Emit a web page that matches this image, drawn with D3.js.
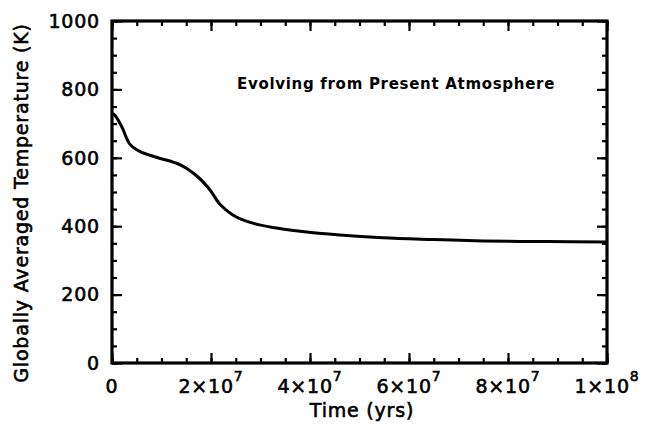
<!DOCTYPE html>
<html>
<head>
<meta charset="utf-8">
<script src="https://cdn.jsdelivr.net/npm/d3@7"></script>
<style>
  body { margin: 0; background: #fff; }
  svg { display: block; font-family: "DejaVu Sans", sans-serif; }
  .lbl { stroke: #000; stroke-width: 0.6px; letter-spacing: 0.8px; }
</style>
</head>
<body>
<svg></svg>
<script>
const width = 645;
const height = 429;
const margin = {top: 21, right: 38, bottom: 66, left: 112};

// time in years, temperature in K
const times = [0, 0.6e6, 2.0e6, 3.6e6, 5.7e6, 9.1e6, 13.7e6, 17.2e6, 19.8e6, 21.8e6,
    24.4e6, 27.9e6, 32.5e6, 38e6, 46e6, 54.7e6, 65e6, 75e6, 88e6, 100e6];
const temps = [730, 724, 690, 640, 618, 601, 580, 546, 506, 464,
    433, 411, 396, 385, 374, 366, 361, 357, 355, 354];

const xTicks = [0, 2e7, 4e7, 6e7, 8e7, 1e8];
const xTickBase = ['0', '2\u00d710', '4\u00d710', '6\u00d710', '8\u00d710', '1\u00d710'];
const xTickExp = ['', '7', '7', '7', '7', '8'];
const yTicks = [0, 200, 400, 600, 800, 1000];

const svg = d3.select('svg')
    .attr('width', width)
    .attr('height', height);

const x = d3.scaleLinear()
    .domain([0, 1e8])
    .range([margin.left, width - margin.right]);

const y = d3.scaleLinear()
    .domain([0, 1000])
    .range([height - margin.bottom, margin.top]);

const minorX = d3.range(0, 1e8 + 1, 5e6);
const minorY = d3.range(0, 1001, 50);

// minor ticks on all four sides
function ticks(axis, vals, len) {
    return axis.tickValues(vals).tickSize(len).tickFormat('');
}

const x0 = x.range()[0], x1 = x.range()[1];
const y0 = y.range()[0], y1 = y.range()[1];

svg.append('g').attr('transform', 'translate(0,' + y0 + ')')
    .call(ticks(d3.axisTop(x), minorX, 5));
svg.append('g').attr('transform', 'translate(0,' + y0 + ')')
    .call(ticks(d3.axisTop(x), xTicks, 10));
svg.append('g').attr('transform', 'translate(0,' + y1 + ')')
    .call(ticks(d3.axisBottom(x), minorX, 5));
svg.append('g').attr('transform', 'translate(0,' + y1 + ')')
    .call(ticks(d3.axisBottom(x), xTicks, 10));
svg.append('g').attr('transform', 'translate(' + x0 + ',0)')
    .call(ticks(d3.axisRight(y), minorY, 5));
svg.append('g').attr('transform', 'translate(' + x0 + ',0)')
    .call(ticks(d3.axisRight(y), yTicks, 10));
svg.append('g').attr('transform', 'translate(' + x1 + ',0)')
    .call(ticks(d3.axisLeft(y), minorY, 5));
svg.append('g').attr('transform', 'translate(' + x1 + ',0)')
    .call(ticks(d3.axisLeft(y), yTicks, 10));

svg.selectAll('.domain').remove();
svg.selectAll('.tick line').attr('stroke', '#000').attr('stroke-width', 2.2);

// frame
svg.append('rect')
    .attr('x', x0)
    .attr('y', y1)
    .attr('width', x1 - x0)
    .attr('height', y0 - y1)
    .attr('fill', 'none')
    .attr('stroke', '#000')
    .attr('stroke-width', 3.2);

// y tick labels
svg.append('g').selectAll('text')
    .data(yTicks)
    .enter().append('text')
    .attr('class', 'lbl')
    .attr('x', x0 - 12)
    .attr('y', d => y(d))
    .attr('dy', '0.36em')
    .attr('text-anchor', 'end')
    .style('font-size', '19px')
    .text(d => d);

// x tick labels with superscripts
const xl = svg.append('g').selectAll('text')
    .data(xTicks)
    .enter().append('text')
    .attr('class', 'lbl')
    .attr('x', d => x(d))
    .attr('y', 393)
    .attr('text-anchor', 'middle')
    .style('font-size', '19px');
xl.append('tspan').text((d, i) => xTickBase[i]);
xl.append('tspan')
    .attr('dy', -12)
    .style('font-size', '14px')
    .text((d, i) => xTickExp[i]);

// curve
const data = times.map((t, i) => ({t: t, T: temps[i]}));
const line = d3.line()
    .x(d => x(d.t))
    .y(d => y(d.T))
    .curve(d3.curveCatmullRom.alpha(0.5));

svg.append('path')
    .datum(data)
    .attr('d', line)
    .attr('fill', 'none')
    .attr('stroke', '#000')
    .attr('stroke-width', 3);

// titles
svg.append('text')
    .attr('class', 'lbl')
    .attr('x', 362)
    .attr('y', 417)
    .attr('text-anchor', 'middle')
    .style('font-size', '19px')
    .text('Time (yrs)');

svg.append('text')
    .attr('class', 'lbl')
    .attr('transform', 'translate(28,203) rotate(-90)')
    .attr('text-anchor', 'middle')
    .style('font-size', '19px')
    .text('Globally Averaged Temperature (K)');

svg.append('text')
    .attr('x', 396)
    .attr('y', 89)
    .attr('text-anchor', 'middle')
    .style('font-size', '15px')
    .style('font-weight', 'bold')
    .style('letter-spacing', '0.7px')
    .text('Evolving from Present Atmosphere');
</script>
</body>
</html>
